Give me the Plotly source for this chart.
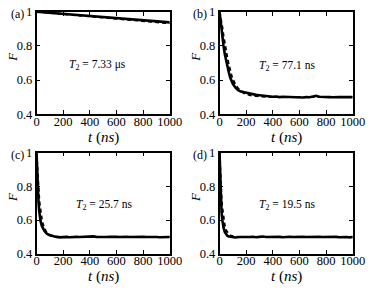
import plotly.graph_objects as go

# ---------------- data ----------------
panel_labels = ["(a)", "(b)", "(c)", "(d)"]
t2_labels = ["7.33 μs", "77.1 ns", "25.7 ns", "19.5 ns"]
x_ticks = [0, 200, 400, 600, 800, 1000]
y_ticks = [0.4, 0.6, 0.8, 1.0]
y_tick_text = ["0.4", "0.6", "0.8", "1"]

t_a = [0, 100, 200, 300, 400, 500, 600, 700, 800, 900, 1000]
Fa_sim = [1.000, 0.994, 0.988, 0.982, 0.975, 0.969, 0.962, 0.956, 0.950, 0.944, 0.938]
Fa_fit = [1.000, 0.993, 0.986, 0.979, 0.972, 0.965, 0.958, 0.951, 0.944, 0.938, 0.932]

t_b = [0, 10, 20, 30, 40, 50, 60, 70, 80, 90, 100, 120, 140, 160, 180, 200,
       225, 250, 275, 300, 325, 350, 375, 400, 425, 450, 475, 500, 525, 550,
       575, 600, 625, 650, 675, 700, 725, 750, 775, 800, 825, 850, 875, 900,
       925, 950, 975, 1000]
Fb_sim = [1.000, 0.920, 0.855, 0.800, 0.750, 0.710, 0.675, 0.645, 0.615, 0.595,
          0.578, 0.555, 0.540, 0.532, 0.528, 0.524,
          0.520, 0.516, 0.513, 0.511, 0.508, 0.506, 0.504, 0.502, 0.503, 0.500,
          0.502, 0.501, 0.499, 0.500, 0.501, 0.499, 0.498, 0.500, 0.499, 0.503,
          0.508, 0.502, 0.500, 0.501, 0.500, 0.499, 0.501, 0.500, 0.500, 0.501,
          0.499, 0.500]
Fb_fit = [1.000, 0.965, 0.915, 0.860, 0.810, 0.765, 0.725, 0.690, 0.655, 0.628,
          0.605, 0.572, 0.550, 0.535, 0.525, 0.518,
          0.512, 0.508, 0.506, 0.504, 0.503, 0.502, 0.501, 0.501, 0.500, 0.500,
          0.500, 0.500, 0.500, 0.500, 0.500, 0.500, 0.500, 0.500, 0.500, 0.500,
          0.500, 0.500, 0.500, 0.500, 0.500, 0.500, 0.500, 0.500, 0.500, 0.500,
          0.500, 0.500]

t_cd = [0, 5, 10, 15, 20, 25, 30, 40, 50, 60, 70, 80, 100, 120, 150,
        175, 200, 225, 250, 275, 300, 325, 350, 375, 400, 425, 450, 475, 500,
        525, 550, 575, 600, 625, 650, 675, 700, 725, 750, 775, 800, 825, 850,
        875, 900, 925, 950, 975, 1000]
Fc_sim = [1.000, 0.870, 0.775, 0.705, 0.655, 0.620, 0.595, 0.565, 0.548, 0.535,
          0.525, 0.518, 0.510, 0.505, 0.499,
          0.497, 0.499, 0.500, 0.498, 0.501, 0.500, 0.499, 0.500, 0.502, 0.500,
          0.503, 0.500, 0.499, 0.496, 0.499, 0.501, 0.502, 0.500, 0.499, 0.501,
          0.500, 0.499, 0.500, 0.498, 0.500, 0.501, 0.499, 0.500, 0.497, 0.499,
          0.498, 0.497, 0.498, 0.499]
Fc_fit = [1.000, 0.912, 0.839, 0.779, 0.730, 0.689, 0.656, 0.605, 0.571, 0.548,
          0.533, 0.522, 0.510, 0.505, 0.501,
          0.500, 0.500, 0.500, 0.500, 0.500, 0.500, 0.500, 0.500, 0.500, 0.500,
          0.500, 0.500, 0.500, 0.500, 0.500, 0.500, 0.500, 0.500, 0.500, 0.500,
          0.500, 0.500, 0.500, 0.500, 0.500, 0.500, 0.500, 0.500, 0.500, 0.500,
          0.500, 0.500, 0.500, 0.500]
Fd_sim = [1.000, 0.830, 0.720, 0.650, 0.605, 0.575, 0.555, 0.528, 0.513, 0.505,
          0.502, 0.500, 0.497, 0.496, 0.499,
          0.498, 0.500, 0.499, 0.501, 0.498, 0.500, 0.502, 0.499, 0.500, 0.501,
          0.499, 0.500, 0.498, 0.500, 0.501, 0.499, 0.500, 0.502, 0.500, 0.499,
          0.500, 0.501, 0.498, 0.500, 0.499, 0.500, 0.501, 0.499, 0.500, 0.498,
          0.500, 0.499, 0.497, 0.499]
Fd_fit = [1.000, 0.887, 0.799, 0.732, 0.679, 0.639, 0.607, 0.564, 0.539, 0.523,
          0.514, 0.508, 0.503, 0.501, 0.500,
          0.500, 0.500, 0.500, 0.500, 0.500, 0.500, 0.500, 0.500, 0.500, 0.500,
          0.500, 0.500, 0.500, 0.500, 0.500, 0.500, 0.500, 0.500, 0.500, 0.500,
          0.500, 0.500, 0.500, 0.500, 0.500, 0.500, 0.500, 0.500, 0.500, 0.500,
          0.500, 0.500, 0.500, 0.500]

panels = [(t_a, Fa_sim, Fa_fit), (t_b, Fb_sim, Fb_fit),
          (t_cd, Fc_sim, Fc_fit), (t_cd, Fd_sim, Fd_fit)]
t2_pos = [(460, 0.69), (510, 0.685), (505, 0.69), (505, 0.69)]

# ---------------- layout ----------------
W, H = 382, 295
col_px = [(35, 174), (226, 365)]
row_px = [(5, 112.5), (153, 259)]
FONT = "Liberation Serif, Times New Roman, serif"

fig = go.Figure()
annotations = []
layout_axes = {}
for i, (t, fs, ff) in enumerate(panels):
    r, c = divmod(i, 2)
    xa = "x" if i == 0 else f"x{i+1}"
    ya = "y" if i == 0 else f"y{i+1}"
    fig.add_trace(go.Scatter(x=t, y=ff, mode="lines", xaxis=xa, yaxis=ya,
                             line=dict(color="black", width=2, dash="4px,3px"),
                             showlegend=False))
    fig.add_trace(go.Scatter(x=t, y=fs, mode="lines", xaxis=xa, yaxis=ya,
                             line=dict(color="black", width=2.6),
                             showlegend=False))
    x0, x1 = col_px[c]
    y0, y1 = row_px[r]
    xdom = [x0 / W, x1 / W]
    ydom = [1 - y1 / H, 1 - y0 / H]
    axcommon = dict(showline=True, linecolor="black", linewidth=1.5, mirror="ticks",
                    ticks="inside", ticklen=4, tickwidth=1, tickcolor="black",
                    showgrid=False, zeroline=False,
                    tickfont=dict(family=FONT, size=12.5, color="black"))
    layout_axes["xaxis" + ("" if i == 0 else str(i + 1))] = dict(
        domain=xdom, range=[0, 1000], tickvals=x_ticks, anchor=ya,
        ticklabelstandoff=-5, **axcommon)
    layout_axes["yaxis" + ("" if i == 0 else str(i + 1))] = dict(
        domain=ydom, range=[0.4, 1.0], tickvals=y_ticks, ticktext=y_tick_text,
        anchor=xa, **axcommon)
    # panel label
    annotations.append(dict(text=panel_labels[i], xref="paper", yref="paper",
                            x=(x0 - 11) / W, y=1 - (y0 + 2) / H, xanchor="right", yanchor="middle",
                            showarrow=False, font=dict(family=FONT, size=12, color="black")))
    # T2 text
    tx, ty = t2_pos[i]
    annotations.append(dict(text=f"<i>T</i><sub>2</sub> = {t2_labels[i]}", xref=xa, yref=ya,
                            x=tx, y=ty, xanchor="center", yanchor="middle", showarrow=False,
                            font=dict(family=FONT, size=11.5, color="black")))
    # x title
    annotations.append(dict(text="<i>t</i> (<i>ns</i>)", xref="paper", yref="paper",
                            x=(x0 + x1) / 2 / W, y=1 - (y1 + 24) / H, xanchor="center", yanchor="middle",
                            showarrow=False, font=dict(family=FONT, size=15, color="black")))
    # y title
    annotations.append(dict(text="<i>F</i>", xref="paper", yref="paper",
                            x=(x0 - 25) / W, y=1 - ((y0 + y1) / 2 - 6) / H, xanchor="center", yanchor="middle",
                            textangle=-90, showarrow=False,
                            font=dict(family=FONT, size=13, color="black")))

fig.update_layout(width=W, height=H, margin=dict(l=0, r=0, t=0, b=0),
                  paper_bgcolor="white", plot_bgcolor="white",
                  annotations=annotations, **layout_axes)
fig.write_html("out.html", config={"displayModeBar": False},
               post_script="document.body.style.margin='0px';document.body.style.padding='0px';")
